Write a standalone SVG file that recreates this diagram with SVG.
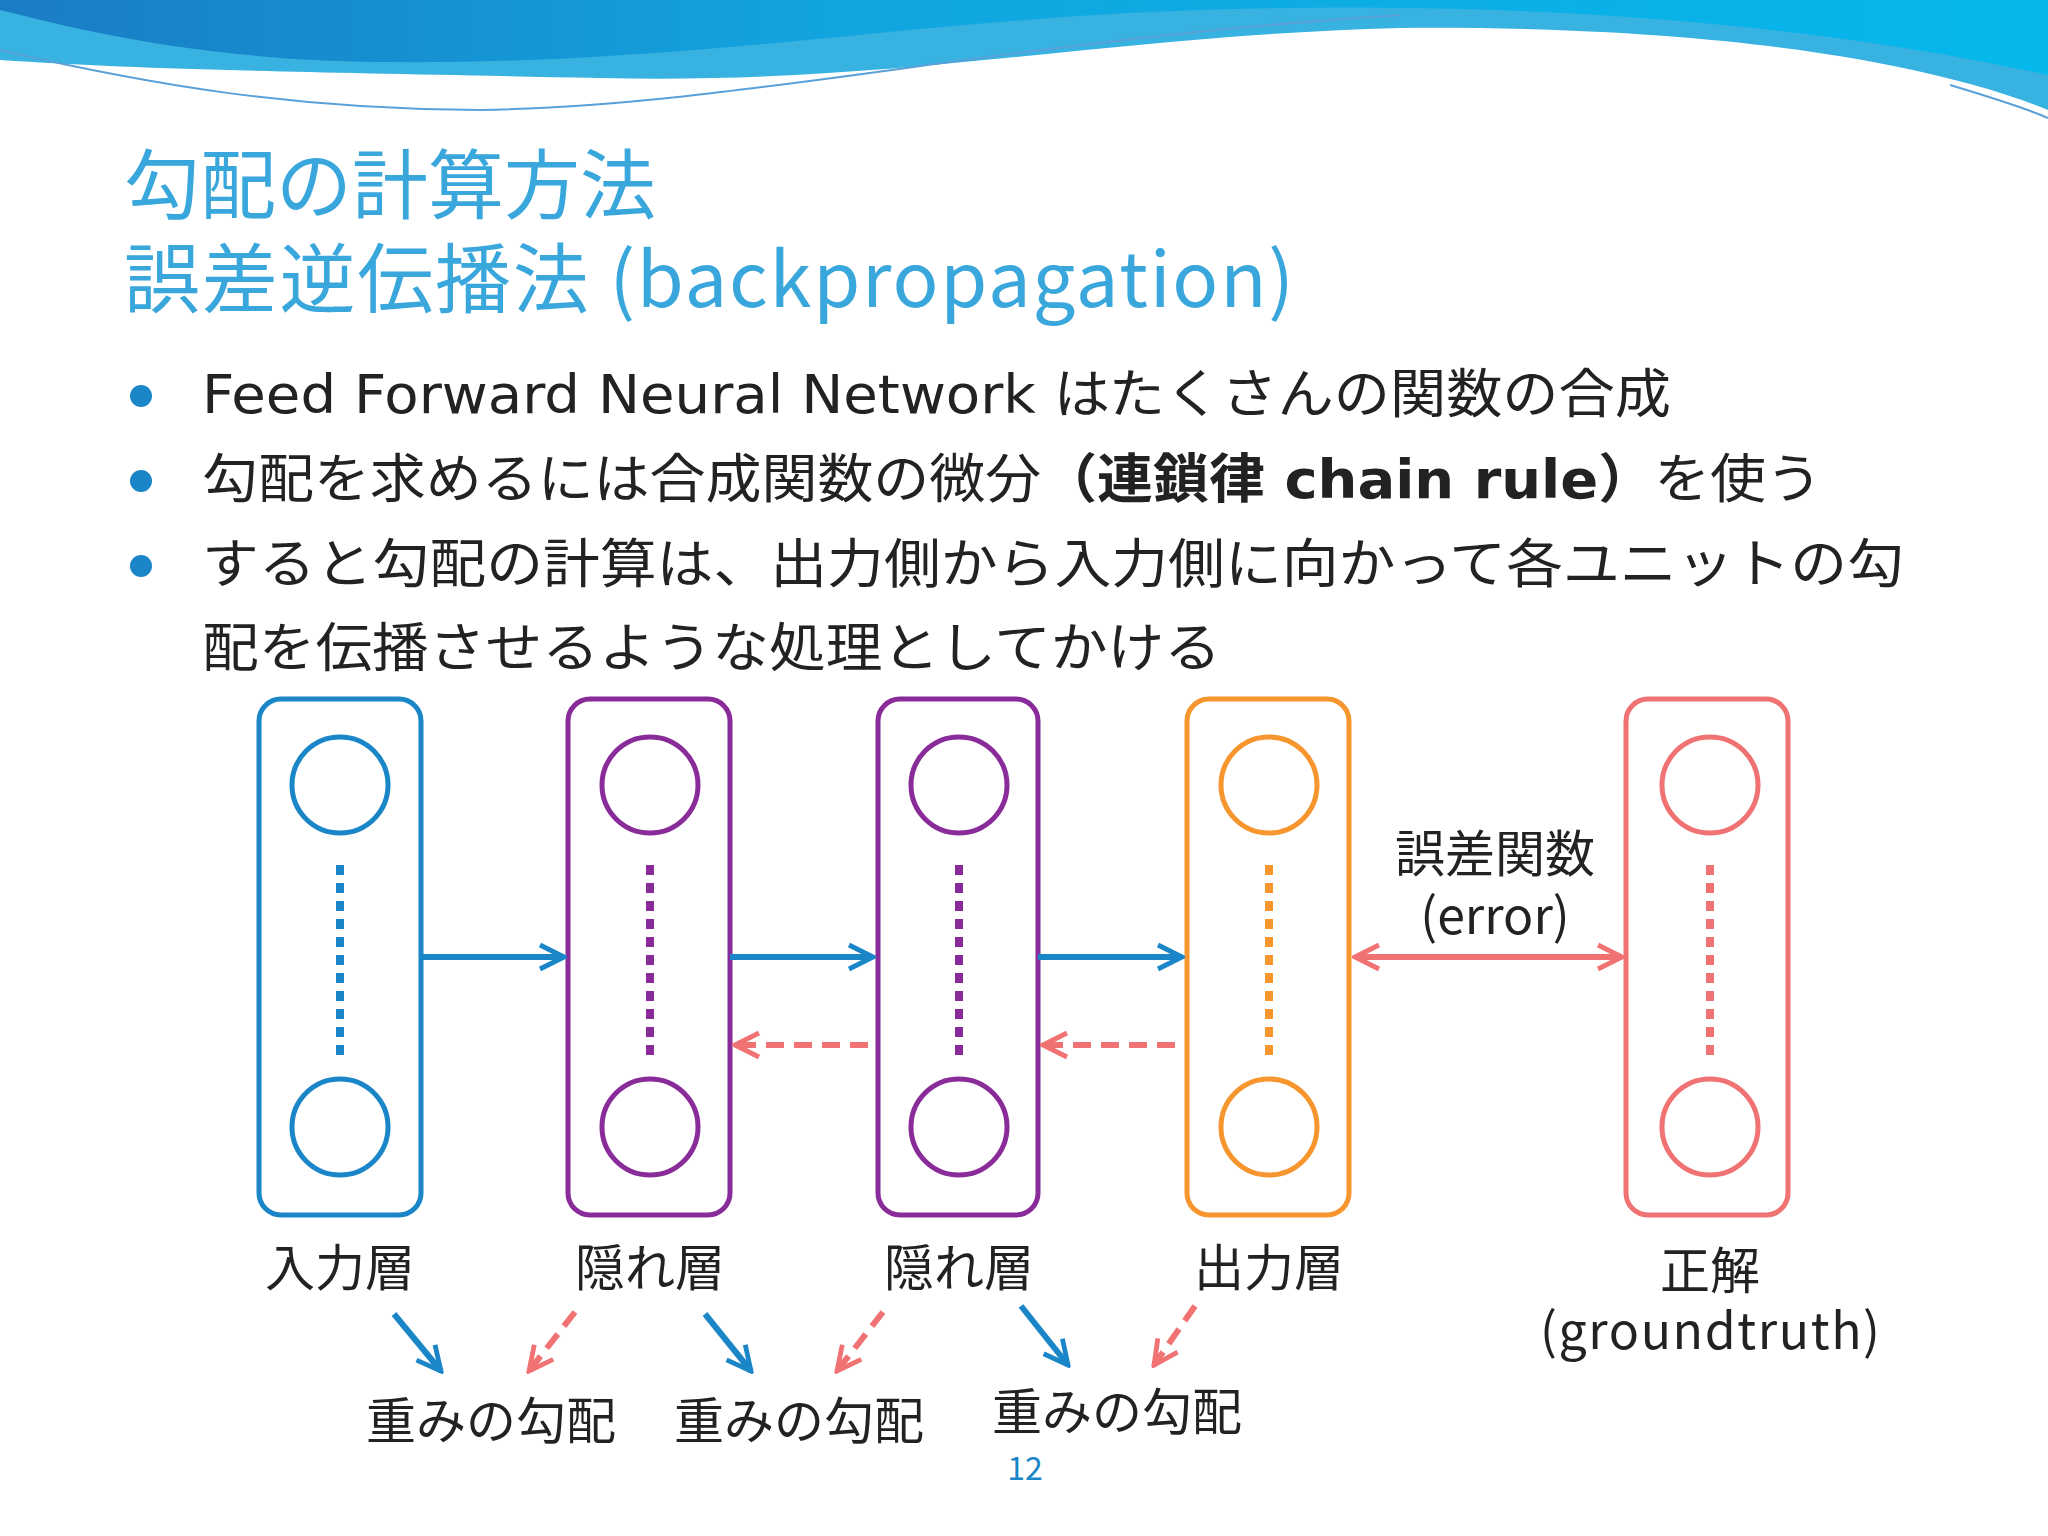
<svg xmlns="http://www.w3.org/2000/svg" width="2048" height="1536" viewBox="0 0 2048 1536">
<defs>
<linearGradient id="g1" x1="0" y1="0" x2="1" y2="0"><stop offset="0" stop-color="#1a7cc4"/><stop offset="0.4" stop-color="#12a4de"/><stop offset="1" stop-color="#05b8ec"/></linearGradient>
<marker id="ab" viewBox="0 0 10 10" refX="9" refY="5" markerWidth="5" markerHeight="5" orient="auto" markerUnits="strokeWidth"><path d="M1,1 L9,5 L1,9" fill="none" stroke="#1a86c8" stroke-width="1.6"/></marker>
<marker id="ar" viewBox="0 0 10 10" refX="9" refY="5" markerWidth="5" markerHeight="5" orient="auto-start-reverse" markerUnits="strokeWidth"><path d="M1,1 L9,5 L1,9" fill="none" stroke="#f07272" stroke-width="1.6"/></marker>
</defs>
<style>
.t{font-family:"Noto Sans CJK JP","Noto Sans",sans-serif;fill:#222}
.b{font-family:"DejaVu Sans","Noto Sans CJK JP",sans-serif;fill:#222}
.box{fill:none;stroke-width:5}
.c{fill:none;stroke-width:5}
.dot{stroke-width:8;stroke-dasharray:10 8}
.fw{stroke:#1a86c8;stroke-width:6;fill:none;marker-end:url(#ab)}
.bw{stroke:#f07272;stroke-width:6;fill:none;stroke-dasharray:18 10;marker-end:url(#ar)}
</style>
<rect width="2048" height="1536" fill="#fff"/>
<path d="M0,0 H2048 V110 C1950,70 1750,25 1400,28 C1100,36 900,85 600,78 C300,72 150,70 0,60 Z" fill="#38b2e0"/>
<path d="M0,0 H2048 V75 C1800,20 1500,0 1200,10 C900,20 700,65 380,62 C200,60 80,30 0,10 Z" fill="url(#g1)"/>
<path d="M0,50 C150,85 300,110 480,110 C750,105 1000,40 1400,15" fill="none" stroke="#5aa0d8" stroke-width="2"/>
<path d="M1950,85 C2000,100 2030,110 2048,118" fill="none" stroke="#5aa0d8" stroke-width="2"/>
<text class="t" x="124" y="213" font-size="76" style="fill:#3aa7dc">勾配の計算方法</text>
<text class="t" x="124" y="307" font-size="76" style="fill:#3aa7dc" textLength="1170" lengthAdjust="spacing">誤差逆伝播法 (backpropagation)</text>
<g fill="#1a86c8"><circle cx="141" cy="396" r="11"/><circle cx="141" cy="481" r="11"/><circle cx="141" cy="566" r="11"/></g>
<text class="b" x="202" y="413" font-size="53" textLength="1469" lengthAdjust="spacingAndGlyphs">Feed Forward Neural Network はたくさんの関数の合成</text>
<text class="b" x="202" y="498" font-size="53" textLength="1620" lengthAdjust="spacingAndGlyphs">勾配を求めるには合成関数の微分<tspan font-weight="bold">（連鎖律 chain rule）</tspan>を使う</text>
<text class="b" x="202" y="583" font-size="53" textLength="1702" lengthAdjust="spacingAndGlyphs">すると勾配の計算は、出力側から入力側に向かって各ユニットの勾</text>
<text class="b" x="202" y="667" font-size="53" textLength="1019" lengthAdjust="spacingAndGlyphs">配を伝播させるような処理としてかける</text>
<g id="input" stroke="#1a86c8"><rect class="box" x="259" y="699" width="162" height="516" rx="22"/><circle class="c" cx="340" cy="785" r="48"/><circle class="c" cx="340" cy="1127" r="48"/><line class="dot" x1="340" y1="865" x2="340" y2="1058"/><text class="t" x="340" y="1286" font-size="50" text-anchor="middle" stroke="none">入力層</text></g>
<g id="hidden1" stroke="#8a2b9a"><rect class="box" x="568" y="699" width="162" height="516" rx="22"/><circle class="c" cx="650" cy="785" r="48"/><circle class="c" cx="650" cy="1127" r="48"/><line class="dot" x1="650" y1="865" x2="650" y2="1058"/><text class="t" x="650" y="1286" font-size="50" text-anchor="middle" stroke="none">隠れ層</text></g>
<g id="hidden2" stroke="#8a2b9a"><rect class="box" x="878" y="699" width="160" height="516" rx="22"/><circle class="c" cx="959" cy="785" r="48"/><circle class="c" cx="959" cy="1127" r="48"/><line class="dot" x1="959" y1="865" x2="959" y2="1058"/><text class="t" x="959" y="1286" font-size="50" text-anchor="middle" stroke="none">隠れ層</text></g>
<g id="output" stroke="#f7962e"><rect class="box" x="1187" y="699" width="162" height="516" rx="22"/><circle class="c" cx="1269" cy="785" r="48"/><circle class="c" cx="1269" cy="1127" r="48"/><line class="dot" x1="1269" y1="865" x2="1269" y2="1058"/><text class="t" x="1269" y="1286" font-size="50" text-anchor="middle" stroke="none">出力層</text></g>
<g id="truth" stroke="#f07272"><rect class="box" x="1626" y="699" width="162" height="516" rx="22"/><circle class="c" cx="1710" cy="785" r="48"/><circle class="c" cx="1710" cy="1127" r="48"/><line class="dot" x1="1710" y1="865" x2="1710" y2="1058"/><text class="t" x="1710" y="1289" font-size="50" text-anchor="middle" stroke="none">正解</text><text class="t" x="1710" y="1349" font-size="50" text-anchor="middle" stroke="none" textLength="340" lengthAdjust="spacing">(groundtruth)</text></g>
<g id="connectors">
<line class="fw" x1="421" y1="957" x2="564" y2="957"/>
<line class="fw" x1="730" y1="957" x2="873" y2="957"/>
<line class="fw" x1="1038" y1="957" x2="1182" y2="957"/>
<line class="bw" x1="868" y1="1045" x2="735" y2="1045"/>
<line class="bw" x1="1175" y1="1045" x2="1043" y2="1045"/>
<line stroke="#f07272" stroke-width="6" marker-start="url(#ar)" marker-end="url(#ar)" x1="1355" y1="957" x2="1622" y2="957"/>
<line class="fw" x1="394" y1="1314" x2="441" y2="1371"/>
<line class="bw" x1="575" y1="1312" x2="529" y2="1371"/>
<line class="fw" x1="705" y1="1314" x2="751" y2="1371"/>
<line class="bw" x1="883" y1="1312" x2="837" y2="1371"/>
<line class="fw" x1="1021" y1="1306" x2="1068" y2="1365"/>
<line class="bw" x1="1195" y1="1306" x2="1154" y2="1365"/>
</g>
<text class="t" x="1495" y="872" font-size="50" text-anchor="middle">誤差関数</text>
<text class="t" x="1495" y="934" font-size="50" text-anchor="middle">(error)</text>
<text class="t" x="491" y="1439" font-size="50" text-anchor="middle">重みの勾配</text>
<text class="t" x="799" y="1439" font-size="50" text-anchor="middle">重みの勾配</text>
<text class="t" x="1117" y="1430" font-size="50" text-anchor="middle">重みの勾配</text>
<text class="t" x="1025" y="1480" font-size="32" text-anchor="middle" style="fill:#1a86c8">12</text>
</svg>
